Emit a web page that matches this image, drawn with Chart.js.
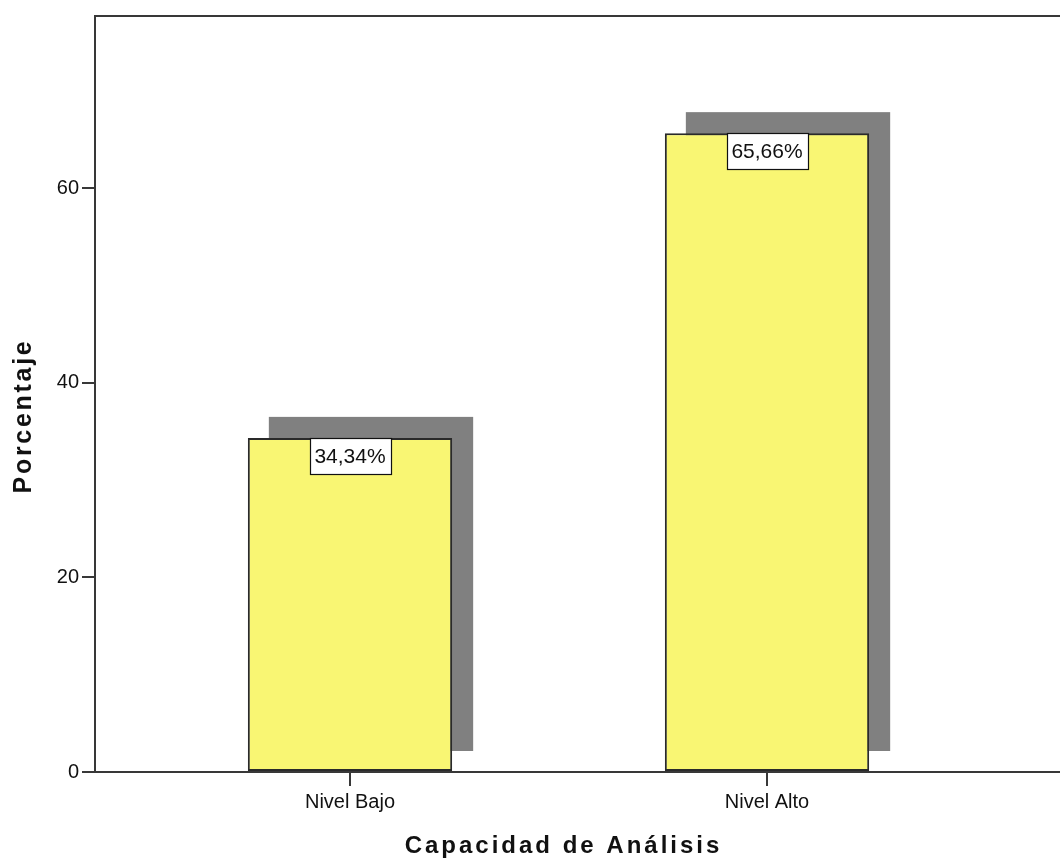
<!DOCTYPE html>
<html lang="es">
<head>
<meta charset="utf-8">
<title>Capacidad de Análisis</title>
<script src="https://cdn.jsdelivr.net/npm/chart.js@4.4.1/dist/chart.umd.min.js"></script>
<style>
  html, body { margin: 0; padding: 0; background: #fff; }
  #grafico { display: block; }
</style>
</head>
<body>
<canvas id="grafico" width="1060" height="862"></canvas>
<script>
// Datos
const categorias = ['Nivel Bajo', 'Nivel Alto'];
const porcentajes = [34.34, 65.66];
const ticksY = [0, 20, 40, 60];

const tituloX = 'Capacidad de Análisis';
const tituloY = 'Porcentaje';

// Estilo
const FUENTE = '"Liberation Sans", Arial, sans-serif';
const COLOR_EJE = '#383838';
const COLOR_TEXTO = '#111';
const AMARILLO = '#f9f673';
const GRIS_SOMBRA = '#808080';
const DESPLAZA_SOMBRA = 21;

// Sombra gris desplazada detrás de cada barra
const sombraBarras = {
    id: 'sombraBarras',
    beforeDatasetsDraw(chart) {
        const ctx = chart.ctx;
        ctx.save();
        ctx.fillStyle = GRIS_SOMBRA;
        chart.getDatasetMeta(0).data.forEach(bar => {
            const { x, y, base, width } = bar.getProps(['x', 'y', 'base', 'width'], true);
            ctx.fillRect(x - width / 2 + DESPLAZA_SOMBRA, y - DESPLAZA_SOMBRA, width, base - y + 1);
        });
        ctx.restore();
    }
};

// Caja blanca con el porcentaje en la parte superior de cada barra
const etiquetasValor = {
    id: 'etiquetasValor',
    afterDatasetsDraw(chart) {
        const ctx = chart.ctx;
        ctx.save();
        ctx.font = '21px ' + FUENTE;
        ctx.textAlign = 'center';
        ctx.textBaseline = 'middle';
        chart.getDatasetMeta(0).data.forEach((bar, i) => {
            const texto = porcentajes[i].toFixed(2).replace('.', ',') + '%';
            const w = Math.round(ctx.measureText(texto).width + 10);
            const h = 36;
            const x0 = Math.round(bar.x - w / 2) + 0.5;
            const y0 = Math.round(bar.y) + 0.5;
            ctx.fillStyle = '#fff';
            ctx.fillRect(x0, y0, w, h);
            ctx.strokeStyle = '#111';
            ctx.lineWidth = 1.2;
            ctx.strokeRect(x0, y0, w, h);
            ctx.fillStyle = COLOR_TEXTO;
            ctx.fillText(texto, bar.x, y0 + h / 2 + 1);
        });
        ctx.restore();
    }
};

// Línea superior del marco y títulos de los ejes
const marcoYTitulos = {
    id: 'marcoYTitulos',
    afterDraw(chart) {
        const { ctx, chartArea, scales } = chart;
        ctx.save();
        ctx.strokeStyle = COLOR_EJE;
        ctx.lineWidth = 2;
        ctx.beginPath();
        ctx.moveTo(chartArea.left - 1, chartArea.top);
        ctx.lineTo(chartArea.right, chartArea.top);
        ctx.stroke();

        ctx.fillStyle = COLOR_TEXTO;
        ctx.textAlign = 'center';
        ctx.textBaseline = 'alphabetic';

        // Título del eje X, centrado entre las categorías
        const primero = scales.x.getPixelForValue(0);
        const ultimo = scales.x.getPixelForValue(categorias.length - 1);
        ctx.letterSpacing = '3px';
        ctx.font = 'bold 24px ' + FUENTE;
        ctx.fillText(tituloX, (primero + ultimo) / 2 + 5, scales.x.bottom - 9);

        // Título del eje Y, girado
        ctx.letterSpacing = '2.7px';
        ctx.font = 'bold 25px ' + FUENTE;
        ctx.translate(scales.y.left + 31, (chartArea.top + chartArea.bottom) / 2 + 22);
        ctx.rotate(-Math.PI / 2);
        ctx.fillText(tituloY, 0, 0);
        ctx.restore();
    }
};

new Chart(document.getElementById('grafico'), {
    type: 'bar',
    data: {
        datasets: [{
            label: tituloY,
            data: porcentajes.map((v, i) => ({ x: i, y: v })),
            backgroundColor: AMARILLO,
            borderColor: '#2a2a2a',
            borderWidth: 2,
            borderSkipped: false,
            categoryPercentage: 1,
            barPercentage: 0.49
        }]
    },
    options: {
        responsive: false,
        devicePixelRatio: 1,
        animation: false,
        layout: { padding: { top: 16, left: 0, right: 0, bottom: 0 } },
        plugins: {
            legend: { display: false },
            tooltip: { enabled: false }
        },
        scales: {
            x: {
                type: 'linear',
                offset: false,
                min: -0.6115,
                max: 1.7026,
                afterBuildTicks: s => { s.ticks = categorias.map((_, i) => ({ value: i })); },
                afterFit: s => { s.height = 90; },
                grid: { offset: false, drawOnChartArea: false, drawTicks: true, tickLength: 14, color: COLOR_EJE, lineWidth: 2 },
                border: { color: COLOR_EJE, width: 2 },
                ticks: {
                    callback: v => categorias[v],
                    font: { family: FUENTE, size: 20 },
                    color: COLOR_TEXTO,
                    padding: 4,
                    maxRotation: 0,
                    autoSkip: false
                }
            },
            y: {
                min: 0,
                max: 77.7,
                afterBuildTicks: s => { s.ticks = ticksY.map(v => ({ value: v })); },
                afterFit: s => { s.width = 95; },
                grid: { drawOnChartArea: false, drawTicks: true, tickLength: 13, color: COLOR_EJE, lineWidth: 2 },
                border: { color: COLOR_EJE, width: 2 },
                ticks: {
                    font: { family: FUENTE, size: 20 },
                    color: COLOR_TEXTO,
                    padding: 3
                }
            }
        }
    },
    plugins: [sombraBarras, etiquetasValor, marcoYTitulos]
});
</script>
</body>
</html>
